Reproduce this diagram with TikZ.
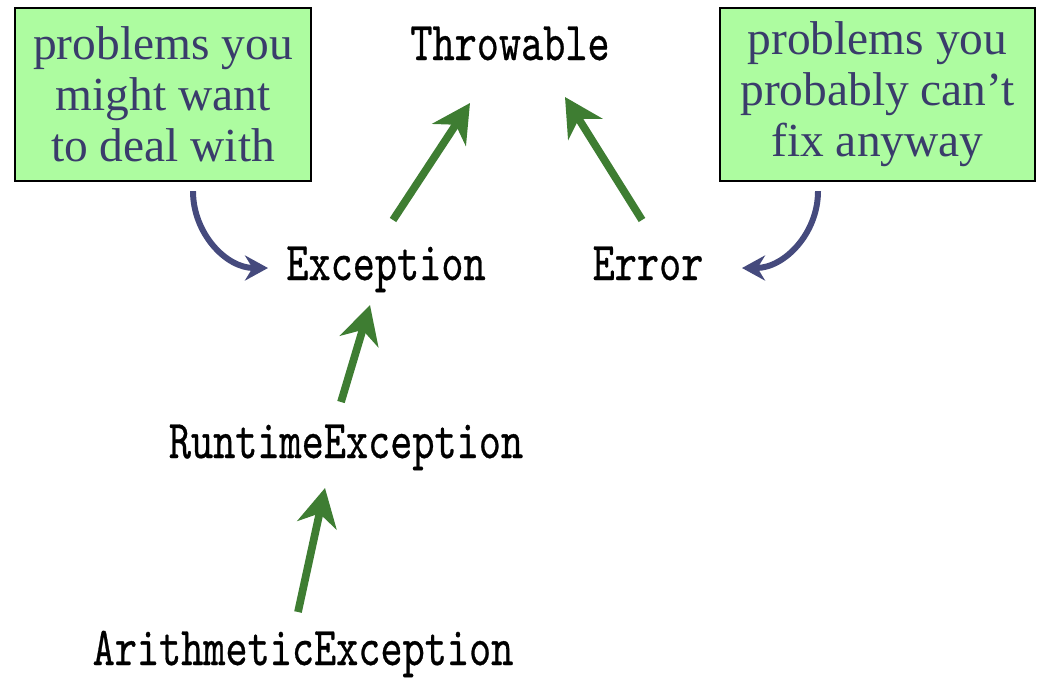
\documentclass[tikz,border=0pt]{standalone}
\usepackage{fontspec}
\usepackage{graphicx}
\usepackage{xcolor}
\usepackage{tikz}
\usetikzlibrary{arrows.meta, calc}

\newfontfamily\notefont{Liberation Serif}
\newfontfamily\clsfont{lmmono10-regular.otf}[FakeBold=0.6]
\newcommand{\clsname}[1]{\scalebox{1}[1.3]{#1}}

\definecolor{notefill}{RGB}{173,252,160}
\definecolor{notetext}{RGB}{58,60,107}
\definecolor{notearrow}{RGB}{69,74,125}
\definecolor{inheritgreen}{RGB}{62,125,50}

\begin{document}
\begin{tikzpicture}[
            x=0.02cm, y=0.02cm,                 % una unidad = un pixel
            block/.style={
                rectangle,
                draw=black,
                line width=1.3pt,
                fill=notefill,
                text=notetext,
                align=center,
                minimum height=3.46cm,
                inner sep=0pt,
                font=\notefont\fontsize{27}{29}\selectfont
            },
            cls/.style={
                anchor=base,
                inner sep=0pt,
                font=\clsfont\fontsize{24}{24}\selectfont
            },
            inherit/.style={
                draw=inheritgreen,
                line width=4.4pt,
                -{Stealth[length=0.76cm, width=0.8cm, inset=0.24cm]}
            },
            note/.style={
                draw=notearrow,
                line width=3.4pt,
                -{Stealth[length=0.46cm, width=0.5cm, inset=0.15cm]}
            }
        ]
            \useasboundingbox (0,0) rectangle (1040,-677);

            % --- CLASES ---
            \node [cls] (thr) at (510,-60) {\clsname{Throwable}};
            \node [cls] (exc) at (386,-280) {\clsname{Exception}};
            \node [cls] (err) at (648,-280) {\clsname{Error}};
            \node [cls] (rte) at (346,-458) {\clsname{RuntimeException}};
            \node [cls] (ari) at (303,-665) {\clsname{ArithmeticException}};

            % --- NOTAS ---
            \node [block, minimum width=5.92cm] (probA) at (163,-94.5) {
                problems you\\ might want\\ to deal with
            };
            \node [block, minimum width=6.3cm] (probB) at (877.5,-94.5) {
                problems you\\ probably can’t\\ fix anyway
            };

            % --- HERENCIA ---
            \path [inherit] ($(exc.base)+(7,60)$) -- ($(thr.base)+(-40,-43)$);
            \path [inherit] ($(err.base)+(-6,60)$) -- ($(thr.base)+(55,-37)$);
            \path [inherit] ($(rte.base)+(-5,56)$) -- ($(exc.base)+(-16,-25)$);
            \path [inherit] ($(ari.base)+(-5,53)$) -- ($(rte.base)+(-21,-30)$);

            % --- FLECHAS DE NOTAS ---
            \path [note] ($(probA.south)+(30,-9)$) to[out=-90, in=180] ($(exc.base)+(-118,12)$);
            \path [note] ($(probB.south)+(-59.5,-9)$) to[out=-90, in=0] ($(err.base)+(94,12)$);
        \end{tikzpicture}
\end{document}
